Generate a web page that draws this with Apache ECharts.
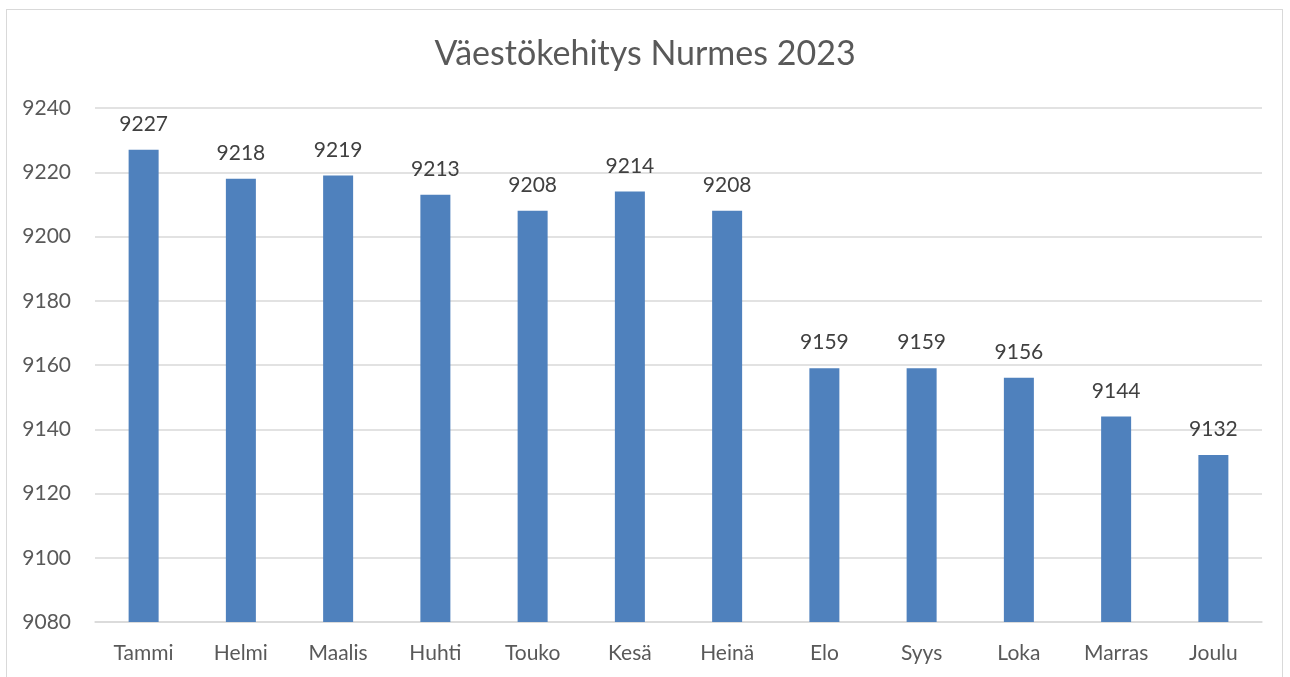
<!DOCTYPE html>
<html>
<head>
<meta charset="utf-8">
<script src="https://cdn.jsdelivr.net/npm/echarts@6/dist/echarts.min.js"></script>
<style>
  html, body { margin: 0; padding: 0; background: #fff; }
  .frame {
    position: absolute;
    left: 6px; top: 9px;
    width: 1277px; height: 700px;
    border: 1px solid #d9d9d9;
    box-sizing: border-box;
  }
  #chart { position: absolute; left: 0; top: 0; width: 1290px; height: 677px; }
</style>
</head>
<body>
<div class="frame"></div>
<div id="chart"></div>
<script>
// kuukaudet ja väkiluku
const months = ['Tammi', 'Helmi', 'Maalis', 'Huhti', 'Touko', 'Kesä', 'Heinä', 'Elo', 'Syys', 'Loka', 'Marras', 'Joulu']
const population = [9227, 9218, 9219, 9213, 9208, 9214, 9208, 9159, 9159, 9156, 9144, 9132]
const yMin = 9080
const yMax = 9240
const yStep = 20

const chart = echarts.init(document.getElementById('chart'))
const font = 'Lato, "Open Sans", sans-serif'

const option = {
  animation: false,
  title: {
    text: 'Väestökehitys Nurmes 2023',
    left: 'center',
    top: 32,
    textStyle: { fontFamily: font, fontSize: 34, fontWeight: 'normal', color: '#595959' }
  },
  grid: { left: 95, right: 28, top: 108, bottom: 55 },
  xAxis: {
    type: 'category',
    data: months,
    axisLine: { show: true, lineStyle: { color: '#d9d9d9', width: 1.5 } },
    axisTick: { show: false },
    axisLabel: { fontFamily: font, fontSize: 21, color: '#595959', margin: 21 }
  },
  yAxis: {
    type: 'value',
    min: yMin,
    max: yMax,
    interval: yStep,
    axisLine: { show: false },
    axisTick: { show: false },
    splitLine: { lineStyle: { color: '#d9d9d9', width: 1.5 } },
    axisLabel: {
      fontFamily: font, fontSize: 21, color: '#595959', margin: 24,
      formatter: (v) => String(v)
    }
  },
  series: [
    {
      type: 'bar',
      data: population,
      barWidth: 30,
      itemStyle: { color: '#4f81bd' },
      label: {
        show: true,
        position: 'top',
        distance: 15,
        fontFamily: font,
        fontSize: 21,
        color: '#404040'
      }
    }
  ]
}
chart.setOption(option)
</script>
</body>
</html>
